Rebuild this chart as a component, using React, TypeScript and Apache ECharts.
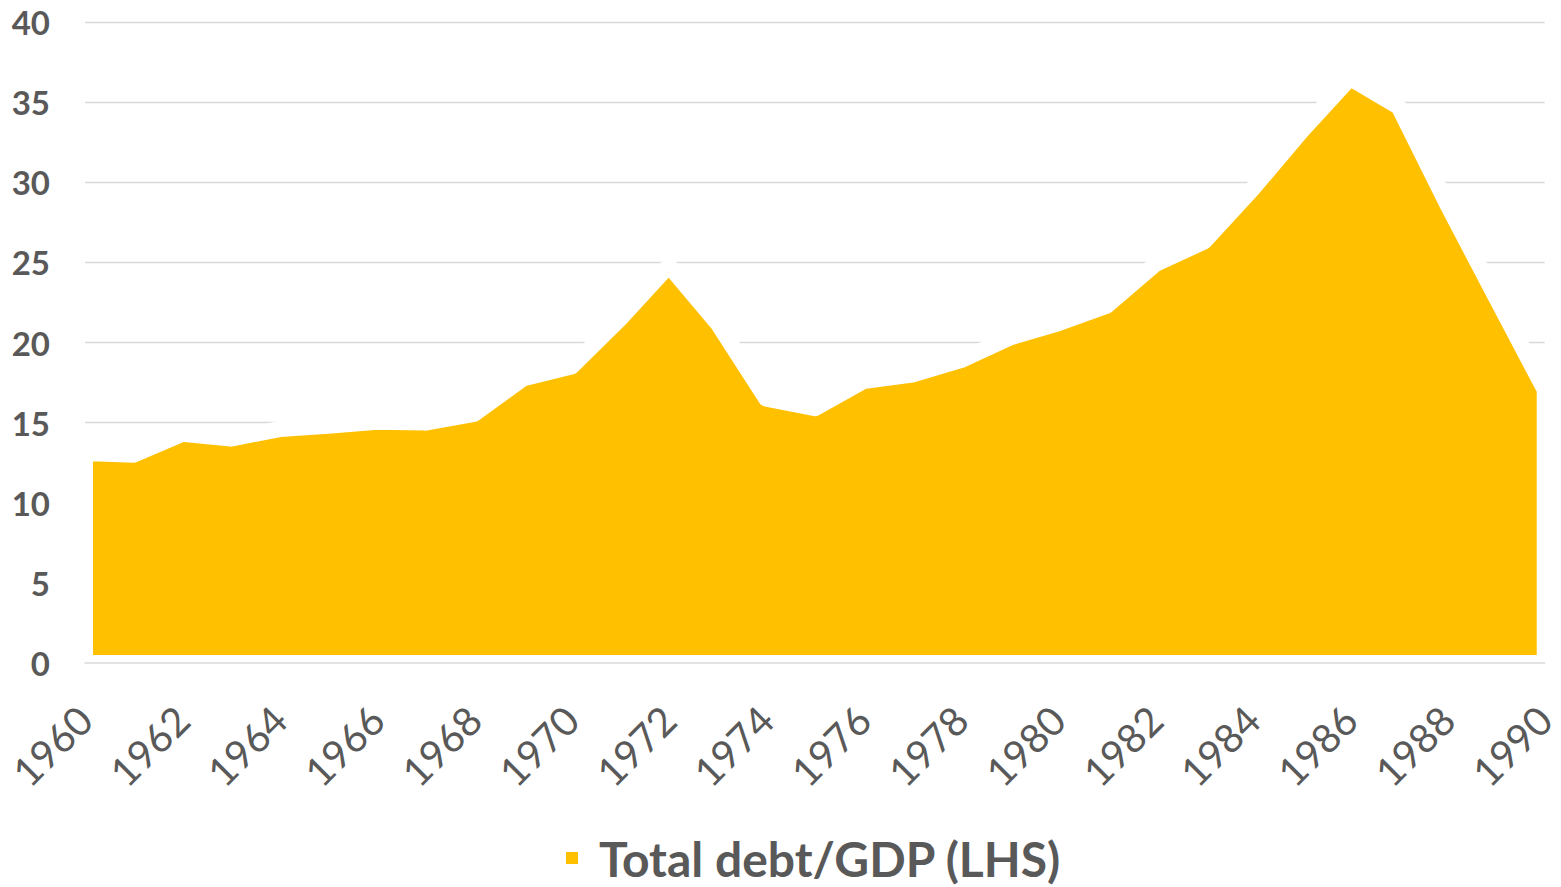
import React, { useEffect, useRef } from "react";
import * as echarts from "echarts";

const years: string[] = [
  "1960", "1961", "1962", "1963", "1964", "1965", "1966", "1967", "1968", "1969",
  "1970", "1971", "1972", "1973", "1974", "1975", "1976", "1977", "1978", "1979",
  "1980", "1981", "1982", "1983", "1984", "1985", "1986", "1987", "1988", "1989",
  "1990",
];

const debtToGdp: number[] = [
  13.1, 13.0, 14.3, 14.0, 14.6, 14.8, 15.05, 15.0, 15.55, 17.75,
  18.5, 21.5, 24.8, 21.2, 16.5, 15.9, 17.6, 18.0, 18.9, 20.3,
  21.2, 22.3, 24.9, 26.3, 29.6, 33.2, 36.5, 34.7, 28.6, 22.8,
  17.05,
];

const seriesName = "Total debt/GDP (LHS)";
const FILL = "#FFC000";
const TEXT = "#595959";
const GRID = "#D9D9D9";
const FONT = "Lato, 'Noto Sans', sans-serif";

export default function App() {
  const ref = useRef<HTMLDivElement>(null);

  useEffect(() => {
    if (!ref.current) return;
    const chart = echarts.init(ref.current, null, { renderer: "svg" });
    const option: any = {
      animation: false,
      backgroundColor: "#ffffff",
      grid: { left: 85, right: 13, top: 22, bottom: 224, containLabel: false },
      legend: {
        show: true,
        data: [seriesName],
        top: 829,
        left: 561,
        icon: "rect",
        itemWidth: 12,
        itemHeight: 12,
        itemGap: 10,
        textStyle: {
          fontSize: 48,
          fontWeight: "bold",
          color: TEXT,
          fontFamily: FONT,
          padding: [0, 0, 0, 16],
        },
      },
      xAxis: {
        type: "category",
        data: years,
        boundaryGap: false,
        z: 10,
        axisLine: { show: true, lineStyle: { color: GRID, width: 1.5 } },
        axisTick: { show: false },
        splitLine: { show: false },
        axisLabel: {
          interval: 1,
          rotate: 45,
          margin: 50,
          fontSize: 40,
          color: TEXT,
          fontFamily: FONT,
        },
      },
      yAxis: {
        type: "value",
        min: 0,
        max: 40,
        interval: 5,
        axisLine: { show: false },
        axisTick: { show: false },
        splitLine: { show: true, lineStyle: { color: GRID, width: 1.3 } },
        axisLabel: {
          margin: 35,
          fontSize: 33,
          fontWeight: "bold",
          color: TEXT,
          fontFamily: FONT,
        },
      },
      series: [
        {
          name: seriesName,
          type: "custom",
          itemStyle: { color: FILL },
          encode: { x: 0, y: 1 },
          data: debtToGdp.map((v, i) => [i, v]),
          renderItem: (params: any, api: any) => {
            if (params.dataIndex !== 0) return null;
            const n = debtToGdp.length - 1;
            const pts = debtToGdp.map((v, i) => api.coord([i, v]));
            pts.push(api.coord([n, 0]));
            pts.push(api.coord([0, 0]));
            return {
              type: "polygon",
              shape: { points: pts },
              style: {
                fill: FILL,
                stroke: "#ffffff",
                lineWidth: 16,
                lineJoin: "round",
              },
            };
          },
        },
      ],
    };
    chart.setOption(option);
    return () => chart.dispose();
  }, []);

  return (
    <div
      ref={ref}
      style={{ position: "fixed", left: 0, top: 0, width: 1561, height: 887, background: "#fff" }}
    />
  );
}
